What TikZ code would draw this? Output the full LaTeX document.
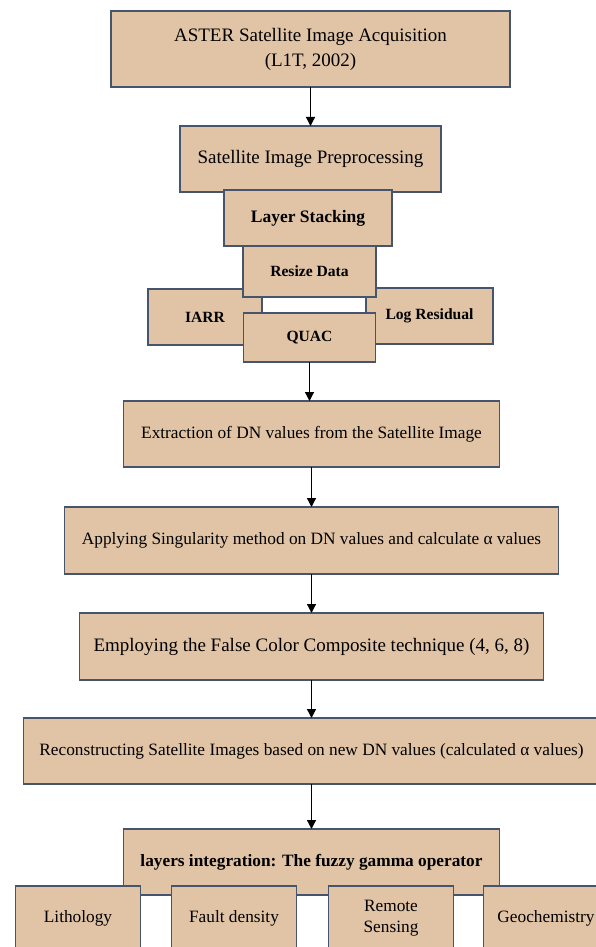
\documentclass[tikz,border=0pt]{standalone}
\usepackage{fontspec}
\setmainfont{Liberation Serif}
\usetikzlibrary{positioning,arrows.meta}
\definecolor{boxfill}{HTML}{E1C4A5}
\definecolor{boxline}{HTML}{46546E}

\begin{document}
\begin{tikzpicture}[
  x=1pt, y=1pt,
  node distance=39pt,
  box/.style={draw=boxline, fill=boxfill, line width=1.4pt, outer sep=0pt, align=center, inner sep=0pt, font=\fontsize{17.3}{21}\selectfont},
  bigtext/.style={font=\fontsize{19}{25}\selectfont},
  subbox/.style={font=\fontsize{15.6}{19}\selectfont\bfseries},
  leaf/.style={box, minimum width=125pt, minimum height=64pt},
  arr/.style={-{Triangle[length=9pt,width=9pt]}, line width=1.3pt}
]
\useasboundingbox (0,0) rectangle (596,-947);
% acquisition and preprocessing
\node[box, bigtext, minimum width=399pt, minimum height=76pt] (aster) at (310.5,-49) {ASTER Satellite Image Acquisition\\(L1T, 2002)};
\node[box, bigtext, below=39pt of aster, minimum width=261pt, minimum height=66pt] (pre) {Satellite Image Preprocessing};
\node[box, subbox, minimum width=114pt, minimum height=56pt] (iarr) at (205,-317) {IARR};
\node[box, subbox, minimum width=127pt, minimum height=56pt] (logres) at (429.5,-316) {Log Residual};
\node[box, below=-2pt of pre, xshift=-2.5pt, minimum width=168pt, minimum height=56pt, font=\fontsize{17.5}{21}\selectfont\bfseries] (stack) {Layer Stacking};
\node[box, subbox, below=0pt of stack, xshift=1.5pt, minimum width=133pt, minimum height=51pt] (resize) {Resize Data};
\node[box, subbox, below=16pt of resize, minimum width=132pt, minimum height=49pt] (quac) {QUAC};
% singularity steps
\node[box, below=39pt of quac, xshift=2pt, minimum width=376pt, minimum height=66pt] (ext) {Extraction of DN values from the Satellite Image};
\node[box, below=40pt of ext, minimum width=494pt, minimum height=67pt] (app) {Applying Singularity method on DN values and calculate α values};
\node[box, bigtext, below=39pt of app, minimum width=464pt, minimum height=67pt] (emp) {Employing the False Color Composite technique (4, 6, 8)};
\node[box, below=38pt of emp, minimum width=576pt, minimum height=66pt] (rec) {Reconstructing Satellite Images based on new DN values (calculated α values)};
% integration
\node[box, below=45pt of rec, minimum width=376pt, minimum height=66pt, font=\fontsize{17.3}{21}\selectfont\bfseries] (lay) {layers integration: The fuzzy gamma operator};
\node[leaf, below left=-9pt and -17pt of lay] (lith) {Lithology};
\node[leaf, right=31pt of lith] (fault) {Fault density};
\node[leaf, right=32pt of fault] (remote) {Remote\\Sensing};
\node[leaf, right=30pt of remote] (geo) {Geochemistry};
\draw[arr] (aster) -- (pre);
\draw[arr] (quac.south) -- (quac.south |- ext.north);
\draw[arr] (ext) -- (app);
\draw[arr] (app) -- (emp);
\draw[arr] (emp) -- (rec);
\draw[arr] (rec) -- (lay);
\end{tikzpicture}
\end{document}
